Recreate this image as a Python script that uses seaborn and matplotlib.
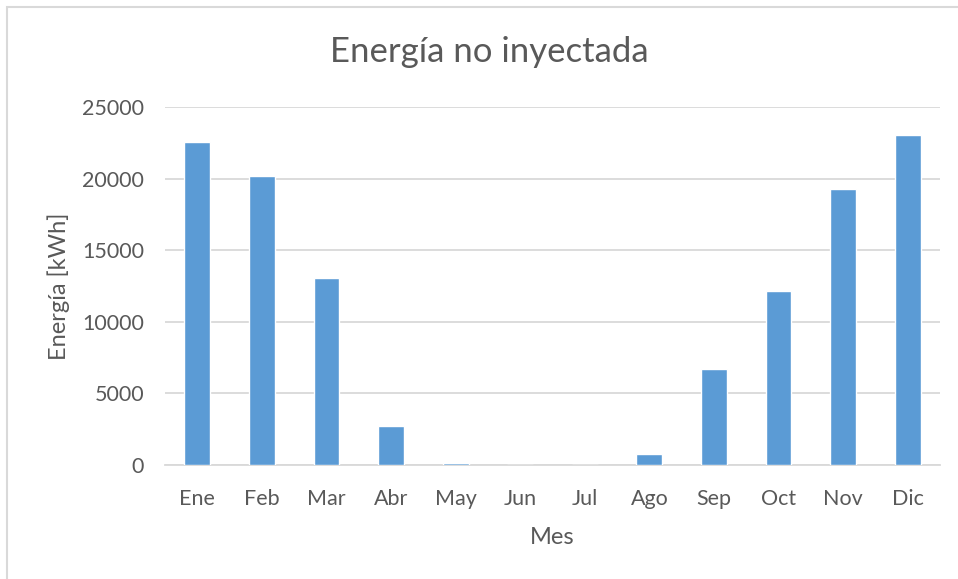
import pandas as pd
import matplotlib.pyplot as plt
import seaborn as sns
from matplotlib.patches import Rectangle

meses = ["Ene", "Feb", "Mar", "Abr", "May", "Jun", "Jul", "Ago", "Sep", "Oct", "Nov", "Dic"]
energia = [22550, 20200, 13050, 2700, 130, 0, 0, 800, 6680, 12130, 19300, 23020]

data = pd.DataFrame({"Mes": meses, "Energia": energia})

sns.set_style("white")
plt.rcParams['font.family'] = ['Lato', 'DejaVu Sans']

texto = "#595959"

fig = plt.figure(figsize=(9.58, 5.79), dpi=100)
ax = fig.add_axes([0.1722, 0.1969, 0.809, 0.6183])

sns.barplot(x="Mes", y="Energia", data=data, color="#5B9BD5", saturation=1,
            width=0.4, ax=ax, zorder=3)

ax.set_ylim(0, 25000)
ax.set_yticks(range(0, 25001, 5000))
ax.set_xlim(-0.5, 11.5)
ax.yaxis.grid(True, color="#D9D9D9", linewidth=1.3, zorder=0)
ax.set_axisbelow(True)
sns.despine(ax=ax, left=True, top=True, right=True)
ax.spines["bottom"].set_color("#D9D9D9")
ax.spines["bottom"].set_linewidth(1.3)

ax.tick_params(axis="y", length=0, labelsize=15.5, labelcolor=texto, pad=15)
ax.tick_params(axis="x", length=0, labelsize=15.5, labelcolor=texto, pad=17)
ax.set_xlabel("Mes", fontsize=17, color=texto, labelpad=13)
ax.set_ylabel("Energía [kWh]", fontsize=17, color=texto, labelpad=9)
fig.text(489 / 958, 1 - 52 / 579, "Energía no inyectada", fontsize=25, color=texto,
         ha="center", va="center")

fig.patches.append(Rectangle((7 / 958, -0.1), 1.1, (1 - 7 / 579) + 0.1,
                             transform=fig.transFigure, fill=False,
                             edgecolor="#D9D9D9", linewidth=1.5))

fig.savefig("out.png", dpi=100)
